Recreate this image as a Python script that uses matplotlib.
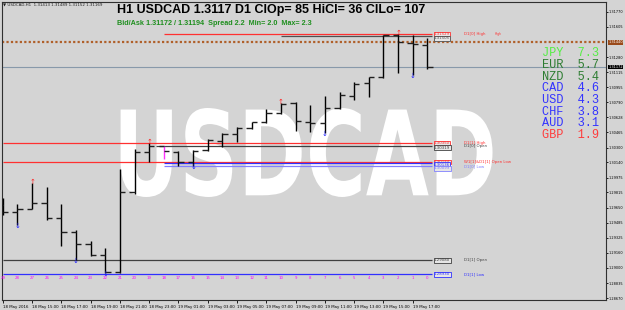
import matplotlib
matplotlib.use("Agg")
import matplotlib.pyplot as plt
from matplotlib.textpath import TextPath
from matplotlib.patches import PathPatch
from matplotlib.font_manager import FontProperties
from matplotlib.transforms import Affine2D, blended_transform_factory

# H1 bars, oldest first; MT4 shift counts down to 0 (current bar)
shift = list(range(29, -1, -1))
opens = [1.29679, 1.29603, 1.29636, 1.29701, 1.29539, 1.29387, 1.29257, 1.29138, 1.28954, 1.29820,
         1.30252, 1.30317, 1.30252, 1.30144, 1.30274, 1.30371, 1.30447, 1.30512, 1.30577, 1.30674,
         1.30782, 1.30577, 1.30566, 1.30728, 1.30858, 1.30999, 1.31064, 1.31518, 1.31431, 1.31413]
highs = [1.29755, 1.29690, 1.29917, 1.29874, 1.29690, 1.29409, 1.29290, 1.29214, 1.30069, 1.30285,
         1.30350, 1.30322, 1.30263, 1.30274, 1.30393, 1.30458, 1.30523, 1.30577, 1.30718, 1.30782,
         1.30793, 1.30761, 1.30858, 1.30901, 1.31010, 1.31064, 1.31518, 1.31529, 1.31518, 1.31489]
lows = [1.29571, 1.29463, 1.29633, 1.29517, 1.29236, 1.29084, 1.29127, 1.28944, 1.28944, 1.29798,
        1.30144, 1.30177, 1.30101, 1.30101, 1.30263, 1.30307, 1.30361, 1.30501, 1.30566, 1.30663,
        1.30480, 1.30469, 1.30458, 1.30718, 1.30815, 1.30847, 1.31053, 1.31107, 1.31085, 1.31152]
closes = [1.29603, 1.29636, 1.29701, 1.29539, 1.29387, 1.29257, 1.29138, 1.28954, 1.29820, 1.30252,
          1.30317, 1.30263, 1.30144, 1.30263, 1.30382, 1.30447, 1.30512, 1.30577, 1.30674, 1.30772,
          1.30588, 1.30566, 1.30728, 1.30869, 1.30988, 1.31064, 1.31518, 1.31442, 1.31421, 1.31169]

# fractal arrows (bar positions)
fractal_up = [2, 10, 19, 27]
fractal_down = [1, 5, 7, 13, 22, 28]

# daily / weekly levels
level_names = ["D1[0] High", "", "D1[1] High", "D1[0] Open", "W1[1]&D1[1] Open Low", "", "D1[0] Low",
               "D1[1] Open", "D1[1] Low"]
level_prices = [1.31529, 1.31505, 1.30350, 1.30319, 1.30144, 1.30136, 1.30099, 1.29080, 1.28930]
level_start = [11, 19, 0, 10.5, 0, 11, 11, 0, 0]
level_colors = ["#ff3030", "#505050", "#ff3030", "#404040", "#ff3030", "#3030ff", "#8080ff",
                "#404040", "#3030ff"]

time_labels = ["18 May 2016", "18 May 15:00", "18 May 17:00", "18 May 19:00", "18 May 21:00",
               "18 May 23:00", "19 May 01:00", "19 May 03:00", "19 May 05:00", "19 May 07:00",
               "19 May 09:00", "19 May 11:00", "19 May 13:00", "19 May 15:00", "19 May 17:00"]
price_ticks = [1.31770, 1.31605, 1.31280, 1.31115, 1.30955, 1.30790, 1.30628, 1.30465, 1.30300,
               1.30140, 1.29975, 1.29815, 1.29650, 1.29485, 1.29325, 1.29160, 1.29000, 1.28835, 1.28670]

currencies = ["JPY", "EUR", "NZD", "CAD", "USD", "CHF", "AUD", "GBP"]
strength = [7.3, 5.7, 5.4, 4.6, 4.3, 3.8, 3.1, 1.9]
cur_colors = ["#55ee44", "#2e7d32", "#2e7d32", "#3333ff", "#3333ff", "#3333ff", "#3333ff", "#ff3b3b"]

bid, ask = 1.31172, 1.31194
brown_level = 1.31440

BG = "#d4d4d4"
W, H = 625, 310
YLO, YHI = 1.286515, 1.318750
SMALL = 2.8
AXIS = 2.5

fig = plt.figure(figsize=(W / 100, H / 100), dpi=100)
fig.patch.set_facecolor(BG)
ax = fig.add_axes([2 / W, 10 / H, 604 / W, 298 / H])
ax.set_facecolor(BG)
ax.set_xlim(-0.05, 41.2)
ax.set_ylim(YLO, YHI)

pos = list(range(len(opens)))

# watermark
fp = FontProperties(family="DejaVu Sans", weight="bold")
tp = TextPath((0, 0), "USDCAD", size=1, prop=fp)
ext = tp.get_extents()
x0, x1 = 8.05, 33.45
y0, y1 = 1.297657, 1.307284
trans = (Affine2D().translate(-ext.x0, -ext.y0)
         .scale((x1 - x0) / ext.width, (y1 - y0) / ext.height)
         .translate(x0, y0) + ax.transData)
ax.add_patch(PathPatch(tp, facecolor="white", edgecolor="none", transform=trans, zorder=0.5))

# levels
box_x = 29.35
for i, (name, price, start, col) in enumerate(zip(level_names, level_prices, level_start, level_colors)):
    ax.hlines(price, start, box_x, color=col, lw=0.9, zorder=2)
    # second of a close pair is stacked under the first box
    stacked = i > 0 and level_prices[i - 1] - price < 0.0004
    ax.text(box_x + 0.1, price, f"{price:.5f}", fontsize=SMALL, color=col,
            va="top" if stacked else "center", ha="left",
            zorder=4, bbox=dict(boxstyle="square,pad=0.1", fc="#e6e6e6", ec=col, lw=0.6))
    if name:
        ax.text(31.5, price, name, fontsize=SMALL, color=col, va="center", ha="left", zorder=4)
ax.text(33.6, level_prices[0], "High", fontsize=2.2, color=level_colors[0], va="center", ha="left")

# bid and brown level across the chart
ax.axhline(bid, color="#8899aa", lw=0.8, zorder=1.5)
ax.axhline(brown_level, color="#b0602a", lw=1.6, ls=(0, (1, 1)), zorder=1.5)

# OHLC bars
tick = 0.36
for p, o, h, l, c in zip(pos, opens, highs, lows, closes):
    vcol = "#ff33ff" if p == 11 else "black"
    ax.vlines(p, l, h, color=vcol, lw=1.0, zorder=3)
    ax.hlines(o, p - tick, p, color="#202020", lw=1.0, zorder=3)
    ax.hlines(c, p, p + tick, color="#202020", lw=1.0, zorder=3)

for p in fractal_up:
    ax.annotate("↑", (p, highs[p]), xytext=(0, -1.5), textcoords="offset points",
                ha="center", va="bottom", fontsize=5, color="#ff2020", zorder=4)
for p in fractal_down:
    ax.annotate("↓", (p, lows[p]), xytext=(0, 1.5), textcoords="offset points",
                ha="center", va="top", fontsize=5, color="#2020ff", zorder=4)

# bar shift numbers
bt = blended_transform_factory(ax.transData, ax.transAxes)
for p, s in zip(pos, shift):
    ax.text(p, 0.073, str(s), transform=bt, fontsize=SMALL, color="#ff00ff", ha="center", va="center")

# axes
for sp in ax.spines.values():
    sp.set_color("#303030")
    sp.set_linewidth(0.8)
ax.yaxis.tick_right()
ax.set_yticks(price_ticks)
ax.set_yticklabels([f"{v:.5f}" for v in price_ticks])
ax.tick_params(axis="y", direction="out", length=1.5, width=0.6, labelsize=AXIS, pad=0.6)
ax.set_xticks(list(range(0, 29, 2)))
ax.set_xticklabels(time_labels, ha="left")
ax.tick_params(axis="x", direction="out", length=2.5, width=0.6, labelsize=SMALL, pad=1)

# price labels on the right scale
for val, fc in [(brown_level, "#9a4a1a"), (bid, "black")]:
    ax.text(1.0035, (val - YLO) / (YHI - YLO), f"{val:.5f}", transform=ax.transAxes,
            fontsize=AXIS, color="white", va="center", ha="left",
            bbox=dict(boxstyle="square,pad=0.12", fc=fc, ec="none"))

# header texts
fig.text(3 / W, 1 - 5 / H, "▼ USDCAD,H1  1.31413 1.31489 1.31152 1.31169", fontsize=2.9,
         va="center", ha="left", color="#202020")
fig.text(117 / W, 1 - 9.5 / H, "H1 USDCAD 1.3117 D1 ClOp= 85 HiCl= 36 ClLo= 107", fontsize=9,
         weight="bold", family="Liberation Sans", va="center", ha="left", color="black")
fig.text(117 / W, 1 - 23.5 / H,
         f"Bid/Ask {bid:.5f} / {ask:.5f}  Spread 2.2  Min= 2.0  Max= 2.3", fontsize=5.2,
         weight="bold", family="Liberation Sans", va="center", ha="left", color="#1f8f1f")

# currency strength table
for i, (cur, val, col) in enumerate(zip(currencies, strength, cur_colors)):
    fig.text(542 / W, 1 - (53.3 + 11.7 * i) / H, f"{cur}  {val:.1f}", fontsize=8.6,
             family="Liberation Mono", va="center", ha="left", color=col)

fig.savefig("out.png", dpi=100, facecolor=BG)
